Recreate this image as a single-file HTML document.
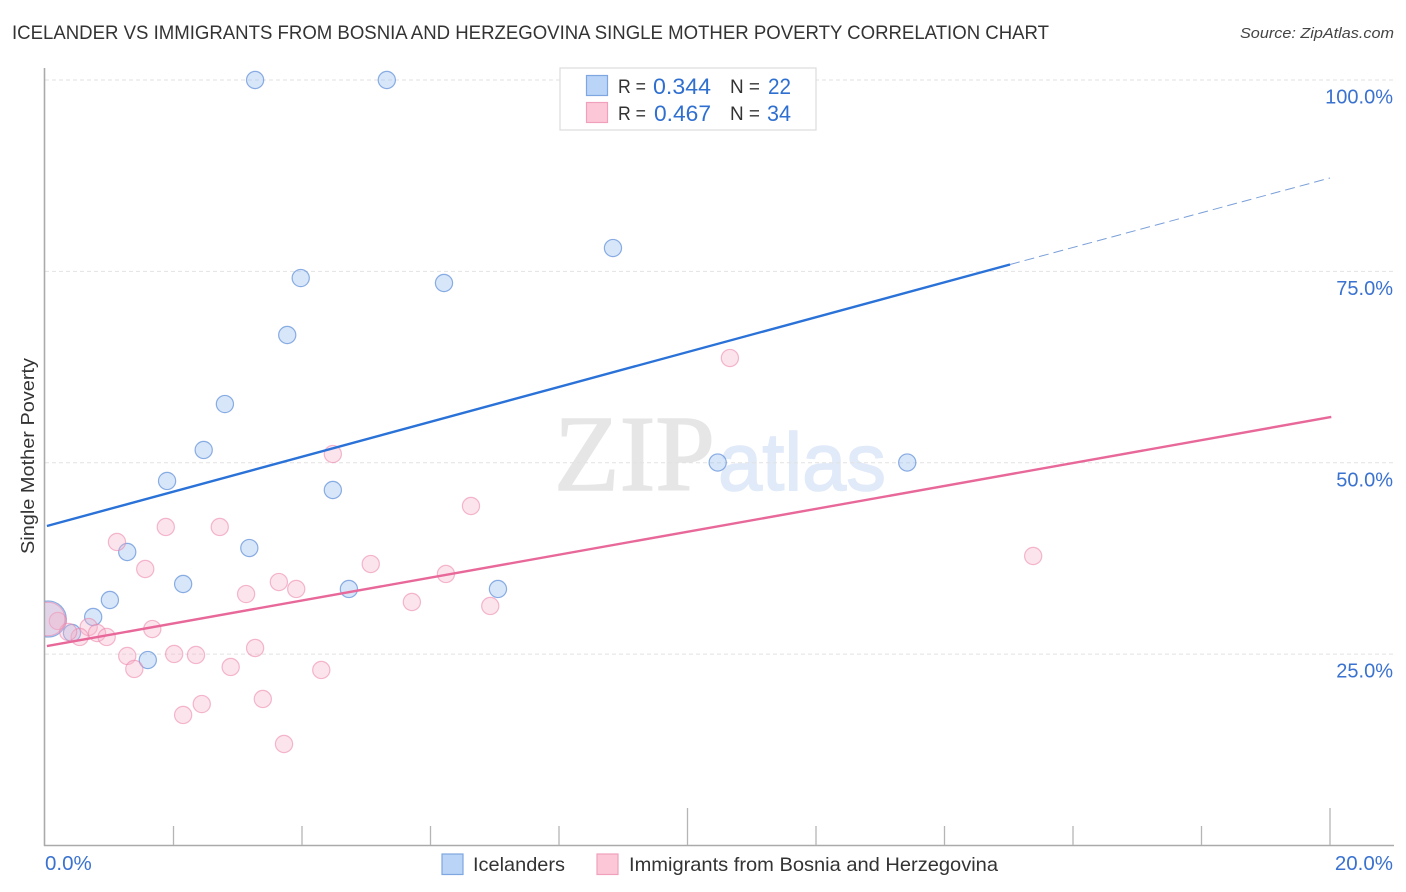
<!DOCTYPE html>
<html lang="en">
<head>
<meta charset="utf-8">
<title>Icelander vs Immigrants from Bosnia and Herzegovina Single Mother Poverty Correlation Chart</title>
<style>
html,body{margin:0;padding:0;background:#fff;}
svg{display:block;font-family:"Liberation Sans",sans-serif;}
</style>
</head>
<body>
<svg id="chart" width="1406" height="892" viewBox="0 0 1406 892" xmlns="http://www.w3.org/2000/svg">
  <defs>
    <clipPath id="plot-clip"><rect x="45" y="60" width="1349" height="786"/></clipPath>
  </defs>
  <text x="12" y="39" font-size="19" fill="#333" textLength="1037" lengthAdjust="spacingAndGlyphs">ICELANDER VS IMMIGRANTS FROM BOSNIA AND HERZEGOVINA SINGLE MOTHER POVERTY CORRELATION CHART</text>
  <text x="1394" y="38" font-size="15" font-style="italic" fill="#444" text-anchor="end" textLength="154" lengthAdjust="spacingAndGlyphs">Source: ZipAtlas.com</text>

  <g>
    <text x="554" y="490" font-family="'Liberation Serif',serif" font-size="108" fill="#e6e6e6" stroke="#e6e6e6" stroke-width="1.5" textLength="161" lengthAdjust="spacingAndGlyphs">ZIP</text>
    <text x="718" y="490" font-size="82" fill="#e0eaf9" stroke="#e0eaf9" stroke-width="1.5" textLength="168" lengthAdjust="spacingAndGlyphs">atlas</text>
  </g>

  <g id="grid"></g>
  <g id="axes">
    <line x1="44.5" y1="68" x2="44.5" y2="846" stroke="#aaa" stroke-width="1.6"/>
    <line x1="44" y1="845.5" x2="1394" y2="845.5" stroke="#aaa" stroke-width="1.6"/>
  </g>
  <g id="ticks"></g>
  <g id="labels"></g>
  <text transform="translate(34,456) rotate(-90)" font-size="18.5" fill="#333" text-anchor="middle" textLength="196" lengthAdjust="spacingAndGlyphs">Single Mother Poverty</text>

  <g id="points" clip-path="url(#plot-clip)"></g>
  <g id="trends"></g>

  <g>
    <rect x="560" y="68" width="256" height="62" fill="#fff" stroke="#ddd" stroke-width="1.2"/>
    <rect x="586.5" y="75.5" width="21" height="20" fill="#b9d4f7" stroke="#7ea6e0" stroke-width="1.2"/>
    <rect x="586.5" y="102.5" width="21" height="20" fill="#fcc8d8" stroke="#f0a0bc" stroke-width="1.2"/>
    <text x="618" y="93" font-size="19" fill="#333" textLength="28" lengthAdjust="spacingAndGlyphs">R =</text>
    <text x="653" y="94" font-size="22" fill="#2f6fd0" textLength="58" lengthAdjust="spacingAndGlyphs">0.344</text>
    <text x="730" y="93" font-size="19" fill="#333" textLength="30" lengthAdjust="spacingAndGlyphs">N =</text>
    <text x="768" y="94" font-size="22" fill="#2f6fd0" textLength="23" lengthAdjust="spacingAndGlyphs">22</text>
    <text x="618" y="120" font-size="19" fill="#333" textLength="28" lengthAdjust="spacingAndGlyphs">R =</text>
    <text x="654" y="121" font-size="22" fill="#2f6fd0" textLength="57" lengthAdjust="spacingAndGlyphs">0.467</text>
    <text x="730" y="120" font-size="19" fill="#333" textLength="30" lengthAdjust="spacingAndGlyphs">N =</text>
    <text x="767" y="121" font-size="22" fill="#2f6fd0" textLength="24" lengthAdjust="spacingAndGlyphs">34</text>
  </g>

  <g>
    <rect x="442" y="854" width="21" height="20.500" fill="#b9d4f7" stroke="#7ea6e0" stroke-width="1.2"/>
    <text x="473" y="871" font-size="19.500" fill="#333" textLength="92" lengthAdjust="spacingAndGlyphs">Icelanders</text>
    <rect x="597" y="854" width="21" height="20.500" fill="#fcc8d8" stroke="#f0a0bc" stroke-width="1.2"/>
    <text x="629" y="871" font-size="19.500" fill="#333" textLength="369" lengthAdjust="spacingAndGlyphs">Immigrants from Bosnia and Herzegovina</text>
  </g>
</svg>
<script>
// Chart data
const blueX = [3.27, 5.32, 8.84, 3.98, 6.21, 3.77, 2.80, 2.47, 1.90, 4.48, 10.47, 13.42, 3.18, 1.28, 2.15, 4.73, 7.05, 1.01, 0.75, 0.42, 1.60, 0.05];
const blueY = [100, 100, 78.05, 74.13, 73.48, 66.69, 57.67, 51.67, 47.62, 46.44, 50.03, 50.03, 38.86, 38.34, 34.16, 33.51, 33.51, 32.07, 29.85, 27.76, 24.23, 29.59];
const blueSize = [1, 1, 1, 1, 1, 1, 1, 1, 1, 1, 1, 1, 1, 1, 1, 1, 1, 1, 1, 1, 1, 2.1];
const pinkX = [10.66, 4.48, 6.63, 1.88, 2.72, 1.12, 15.38, 1.56, 5.07, 6.24, 3.64, 3.91, 3.13, 5.71, 6.93, 0.20, 1.67, 0.68, 0.81, 0.96, 0.54, 0.36, 1.28, 1.39, 2.01, 2.35, 3.27, 2.89, 4.30, 3.39, 2.44, 2.15, 3.72, 0.05];
const pinkY = [63.68, 51.14, 44.35, 41.61, 41.61, 39.65, 37.82, 36.12, 36.77, 35.47, 34.42, 33.51, 32.85, 31.81, 31.29, 29.33, 28.28, 28.54, 27.76, 27.24, 27.24, 27.90, 24.76, 23.06, 25.02, 24.89, 25.80, 23.32, 22.93, 19.14, 18.48, 17.05, 13.26, 29.59];
const pinkSize = [1, 1, 1, 1, 1, 1, 1, 1, 1, 1, 1, 1, 1, 1, 1, 1, 1, 1, 1, 1, 1, 1, 1, 1, 1, 1, 1, 1, 1, 1, 1, 1, 1, 1.95];
const blueTrendX = [0.03, 15.02, 20];
const blueTrendY = [41.74, 75.9, 87.2];
const pinkTrendX = [0.03, 20.02];
const pinkTrendY = [26.06, 55.98];
const yTicks = [100, 75, 50, 25];
const yTickLabels = ['100.0%', '75.0%', '50.0%', '25.0%'];
const xTicks = [2, 4, 6, 8, 10, 12, 14, 16, 18, 20];
const xMajorTicks = [10, 20];
const xEndLabels = ['0.0%', '20.0%'];
const xEndValues = [0, 20];

const NS = 'http://www.w3.org/2000/svg';
const BASE_RADIUS = 8.6;
function xScale(v) { return 45 + v * 64.25; }
function yScale(v) { return 845.5 - v * 7.655; }
function make(tag, attrs, parent) {
  const el = document.createElementNS(NS, tag);
  for (const k in attrs) el.setAttribute(k, attrs[k]);
  parent.appendChild(el);
  return el;
}

const gridG = document.getElementById('grid');
const ticksG = document.getElementById('ticks');
const labelsG = document.getElementById('labels');
const pointsG = document.getElementById('points');
const trendsG = document.getElementById('trends');

yTicks.forEach(function (t, i) {
  const g = make('line', {x1: 45, x2: 1394, y1: yScale(t), y2: yScale(t), stroke: '#e2e2e2', 'stroke-width': 1, 'stroke-dasharray': '4 3'}, gridG);
  
  
  const l = make('text', {x: 1393, y: yScale(t) + 23.5, 'font-size': 20, fill: '#3a72d0', 'text-anchor': 'end'}, labelsG);
  l.textContent = yTickLabels[i];
  
  
});

xTicks.forEach(function (t) {
  const major = xMajorTicks.indexOf(t) >= 0;
  const tick = make('line', {x1: xScale(t), x2: xScale(t), y1: major ? 808 : 826, y2: 845, stroke: '#b5b5b5', 'stroke-width': 1.3}, ticksG);
  
  
});

xEndLabels.forEach(function (txt, i) {
  const first = i === 0;
  const l = make('text', {x: first ? 45 : 1393, y: 870, 'font-size': 20.5, fill: '#3a72d0', 'text-anchor': first ? 'start' : 'end'}, labelsG);
  l.textContent = txt;
  
  l.setAttribute('data-value', xEndValues[i]);
  
});

blueX.forEach(function (v, i) {
  const c = make('circle', {cx: xScale(v), cy: yScale(blueY[i]), r: BASE_RADIUS * blueSize[i], fill: 'rgba(160,195,240,0.42)', stroke: 'rgba(70,125,210,0.6)', 'stroke-width': 1.2}, pointsG);
  
  
});

pinkX.forEach(function (v, i) {
  const c = make('circle', {cx: xScale(v), cy: yScale(pinkY[i]), r: BASE_RADIUS * pinkSize[i], fill: 'rgba(248,180,203,0.36)', stroke: 'rgba(235,130,170,0.55)', 'stroke-width': 1.2}, pointsG);
  
  
});

const blueSolid = make('line', {x1: xScale(blueTrendX[0]), y1: yScale(blueTrendY[0]), x2: xScale(blueTrendX[1]), y2: yScale(blueTrendY[1]), stroke: '#2a72d8', 'stroke-width': 2.4}, trendsG);


const blueDash = make('line', {x1: xScale(blueTrendX[1]), y1: yScale(blueTrendY[1]), x2: xScale(blueTrendX[2]), y2: yScale(blueTrendY[2]), stroke: '#7a9fd8', 'stroke-width': 1, 'stroke-dasharray': '10 5'}, trendsG);


const pinkSolid = make('line', {x1: xScale(pinkTrendX[0]), y1: yScale(pinkTrendY[0]), x2: xScale(pinkTrendX[1]), y2: yScale(pinkTrendY[1]), stroke: '#e8689a', 'stroke-width': 2.4}, trendsG);


</script>
</body>
</html>
